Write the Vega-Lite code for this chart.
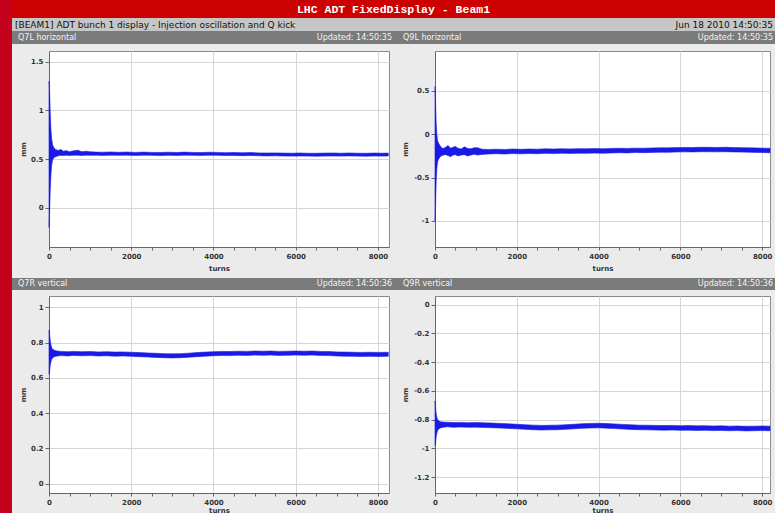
{
  "$schema": "https://vega.github.io/schema/vega-lite/v6.json",
  "background": "#ebebeb",
  "padding": 0,
  "spacing": 0,
  "config": {
    "view": {"stroke": null},
    "axis": {
      "labelFont": "DejaVu Sans", "labelFontWeight": "bold", "labelFontSize": 7, "labelColor": "#333333",
      "titleFont": "DejaVu Sans", "titleFontWeight": "bold", "titleFontSize": 7, "titleColor": "#333333",
      "domainColor": "#666666", "tickColor": "#666666", "gridColor": "#d6d6d6", "gridWidth": 1
    }
  },
  "datasets": {
    "q7l": [
      {"x":0,"lo":-0.2,"hi":1.3},{"x":8,"lo":-0.12,"hi":1.27},{"x":18,"lo":0.0,"hi":1.15},{"x":30,"lo":0.18,"hi":0.98},{"x":45,"lo":0.32,"hi":0.82},{"x":62,"lo":0.43,"hi":0.72},{"x":85,"lo":0.49,"hi":0.65},{"x":115,"lo":0.515,"hi":0.62},{"x":160,"lo":0.525,"hi":0.6},{"x":220,"lo":0.535,"hi":0.59},{"x":290,"lo":0.54,"hi":0.6},{"x":350,"lo":0.538,"hi":0.582},{"x":420,"lo":0.542,"hi":0.588},{"x":500,"lo":0.538,"hi":0.578},{"x":600,"lo":0.542,"hi":0.586},{"x":700,"lo":0.542,"hi":0.592},{"x":800,"lo":0.538,"hi":0.578},{"x":900,"lo":0.542,"hi":0.582},{"x":1000,"lo":0.54,"hi":0.576},{"x":1150,"lo":0.542,"hi":0.573},{"x":1300,"lo":0.539,"hi":0.572},{"x":1500,"lo":0.542,"hi":0.575},{"x":1700,"lo":0.54,"hi":0.571},{"x":1900,"lo":0.542,"hi":0.574},{"x":2100,"lo":0.539,"hi":0.57},{"x":2300,"lo":0.542,"hi":0.573},{"x":2500,"lo":0.54,"hi":0.57},{"x":2700,"lo":0.538,"hi":0.569},{"x":2900,"lo":0.54,"hi":0.572},{"x":3100,"lo":0.539,"hi":0.569},{"x":3300,"lo":0.542,"hi":0.573},{"x":3500,"lo":0.54,"hi":0.57},{"x":3700,"lo":0.539,"hi":0.568},{"x":3900,"lo":0.542,"hi":0.572},{"x":4100,"lo":0.54,"hi":0.57},{"x":4300,"lo":0.538,"hi":0.567},{"x":4500,"lo":0.539,"hi":0.569},{"x":4700,"lo":0.537,"hi":0.566},{"x":4900,"lo":0.538,"hi":0.568},{"x":5100,"lo":0.536,"hi":0.565},{"x":5300,"lo":0.534,"hi":0.564},{"x":5500,"lo":0.535,"hi":0.565},{"x":5700,"lo":0.533,"hi":0.563},{"x":5900,"lo":0.532,"hi":0.562},{"x":6100,"lo":0.533,"hi":0.564},{"x":6300,"lo":0.532,"hi":0.561},{"x":6500,"lo":0.531,"hi":0.561},{"x":6700,"lo":0.532,"hi":0.563},{"x":6900,"lo":0.533,"hi":0.564},{"x":7100,"lo":0.532,"hi":0.562},{"x":7300,"lo":0.534,"hi":0.564},{"x":7500,"lo":0.532,"hi":0.562},{"x":7700,"lo":0.531,"hi":0.561},{"x":7900,"lo":0.533,"hi":0.563},{"x":8100,"lo":0.532,"hi":0.562},{"x":8250,"lo":0.533,"hi":0.563}
    ],
    "q9l": [
      {"x":0,"lo":-1.0,"hi":0.55},{"x":8,"lo":-0.93,"hi":0.5},{"x":18,"lo":-0.74,"hi":0.3},{"x":30,"lo":-0.54,"hi":0.12},{"x":45,"lo":-0.4,"hi":0.0},{"x":62,"lo":-0.32,"hi":-0.07},{"x":85,"lo":-0.29,"hi":-0.1},{"x":110,"lo":-0.27,"hi":-0.12},{"x":150,"lo":-0.25,"hi":-0.15},{"x":200,"lo":-0.24,"hi":-0.165},{"x":260,"lo":-0.235,"hi":-0.15},{"x":320,"lo":-0.245,"hi":-0.13},{"x":380,"lo":-0.26,"hi":-0.16},{"x":440,"lo":-0.24,"hi":-0.15},{"x":500,"lo":-0.235,"hi":-0.14},{"x":560,"lo":-0.25,"hi":-0.16},{"x":640,"lo":-0.24,"hi":-0.17},{"x":720,"lo":-0.235,"hi":-0.145},{"x":800,"lo":-0.25,"hi":-0.165},{"x":880,"lo":-0.24,"hi":-0.168},{"x":960,"lo":-0.23,"hi":-0.155},{"x":1040,"lo":-0.24,"hi":-0.155},{"x":1150,"lo":-0.232,"hi":-0.172},{"x":1300,"lo":-0.228,"hi":-0.176},{"x":1500,"lo":-0.224,"hi":-0.172},{"x":1700,"lo":-0.228,"hi":-0.176},{"x":1900,"lo":-0.223,"hi":-0.17},{"x":2100,"lo":-0.226,"hi":-0.174},{"x":2300,"lo":-0.222,"hi":-0.17},{"x":2500,"lo":-0.224,"hi":-0.172},{"x":2700,"lo":-0.22,"hi":-0.168},{"x":2900,"lo":-0.223,"hi":-0.17},{"x":3100,"lo":-0.219,"hi":-0.167},{"x":3300,"lo":-0.221,"hi":-0.169},{"x":3500,"lo":-0.218,"hi":-0.166},{"x":3700,"lo":-0.22,"hi":-0.168},{"x":3900,"lo":-0.217,"hi":-0.165},{"x":4100,"lo":-0.219,"hi":-0.167},{"x":4300,"lo":-0.216,"hi":-0.164},{"x":4500,"lo":-0.213,"hi":-0.162},{"x":4700,"lo":-0.215,"hi":-0.163},{"x":4900,"lo":-0.211,"hi":-0.16},{"x":5100,"lo":-0.212,"hi":-0.161},{"x":5300,"lo":-0.209,"hi":-0.158},{"x":5500,"lo":-0.207,"hi":-0.156},{"x":5700,"lo":-0.208,"hi":-0.157},{"x":5900,"lo":-0.205,"hi":-0.154},{"x":6100,"lo":-0.203,"hi":-0.152},{"x":6300,"lo":-0.204,"hi":-0.153},{"x":6500,"lo":-0.201,"hi":-0.15},{"x":6700,"lo":-0.202,"hi":-0.151},{"x":6900,"lo":-0.203,"hi":-0.152},{"x":7100,"lo":-0.201,"hi":-0.15},{"x":7300,"lo":-0.204,"hi":-0.153},{"x":7500,"lo":-0.206,"hi":-0.155},{"x":7700,"lo":-0.208,"hi":-0.157},{"x":7900,"lo":-0.21,"hi":-0.159},{"x":8100,"lo":-0.212,"hi":-0.161},{"x":8192,"lo":-0.213,"hi":-0.162}
    ],
    "q7r": [
      {"x":0,"lo":0.62,"hi":0.87},{"x":8,"lo":0.625,"hi":0.86},{"x":18,"lo":0.645,"hi":0.84},{"x":30,"lo":0.67,"hi":0.81},{"x":45,"lo":0.69,"hi":0.79},{"x":65,"lo":0.705,"hi":0.77},{"x":90,"lo":0.714,"hi":0.762},{"x":130,"lo":0.72,"hi":0.756},{"x":200,"lo":0.724,"hi":0.752},{"x":300,"lo":0.726,"hi":0.75},{"x":450,"lo":0.724,"hi":0.748},{"x":600,"lo":0.727,"hi":0.75},{"x":800,"lo":0.725,"hi":0.748},{"x":1000,"lo":0.726,"hi":0.749},{"x":1200,"lo":0.724,"hi":0.747},{"x":1400,"lo":0.725,"hi":0.748},{"x":1600,"lo":0.723,"hi":0.746},{"x":1800,"lo":0.724,"hi":0.747},{"x":2000,"lo":0.722,"hi":0.745},{"x":2200,"lo":0.72,"hi":0.743},{"x":2400,"lo":0.718,"hi":0.741},{"x":2600,"lo":0.716,"hi":0.739},{"x":2800,"lo":0.714,"hi":0.737},{"x":3000,"lo":0.713,"hi":0.736},{"x":3200,"lo":0.714,"hi":0.737},{"x":3400,"lo":0.717,"hi":0.74},{"x":3600,"lo":0.72,"hi":0.743},{"x":3800,"lo":0.723,"hi":0.746},{"x":4000,"lo":0.725,"hi":0.748},{"x":4200,"lo":0.727,"hi":0.75},{"x":4400,"lo":0.726,"hi":0.749},{"x":4600,"lo":0.728,"hi":0.751},{"x":4800,"lo":0.727,"hi":0.75},{"x":5000,"lo":0.729,"hi":0.752},{"x":5200,"lo":0.728,"hi":0.751},{"x":5400,"lo":0.729,"hi":0.752},{"x":5600,"lo":0.727,"hi":0.75},{"x":5800,"lo":0.728,"hi":0.751},{"x":6000,"lo":0.729,"hi":0.752},{"x":6200,"lo":0.728,"hi":0.751},{"x":6400,"lo":0.729,"hi":0.752},{"x":6600,"lo":0.727,"hi":0.75},{"x":6800,"lo":0.726,"hi":0.749},{"x":7000,"lo":0.724,"hi":0.747},{"x":7200,"lo":0.723,"hi":0.746},{"x":7400,"lo":0.722,"hi":0.745},{"x":7600,"lo":0.721,"hi":0.744},{"x":7800,"lo":0.722,"hi":0.745},{"x":8000,"lo":0.721,"hi":0.744},{"x":8250,"lo":0.722,"hi":0.745}
    ],
    "q9r": [
      {"x":0,"lo":-0.98,"hi":-0.67},{"x":8,"lo":-0.975,"hi":-0.69},{"x":18,"lo":-0.95,"hi":-0.73},{"x":30,"lo":-0.92,"hi":-0.76},{"x":45,"lo":-0.895,"hi":-0.785},{"x":65,"lo":-0.875,"hi":-0.8},{"x":90,"lo":-0.865,"hi":-0.808},{"x":130,"lo":-0.858,"hi":-0.814},{"x":200,"lo":-0.853,"hi":-0.817},{"x":300,"lo":-0.85,"hi":-0.818},{"x":450,"lo":-0.853,"hi":-0.82},{"x":600,"lo":-0.851,"hi":-0.819},{"x":800,"lo":-0.853,"hi":-0.821},{"x":1000,"lo":-0.852,"hi":-0.82},{"x":1200,"lo":-0.854,"hi":-0.822},{"x":1400,"lo":-0.856,"hi":-0.824},{"x":1600,"lo":-0.858,"hi":-0.826},{"x":1800,"lo":-0.861,"hi":-0.829},{"x":2000,"lo":-0.864,"hi":-0.832},{"x":2200,"lo":-0.867,"hi":-0.835},{"x":2400,"lo":-0.87,"hi":-0.838},{"x":2600,"lo":-0.872,"hi":-0.84},{"x":2800,"lo":-0.871,"hi":-0.839},{"x":3000,"lo":-0.87,"hi":-0.838},{"x":3200,"lo":-0.867,"hi":-0.835},{"x":3400,"lo":-0.864,"hi":-0.832},{"x":3600,"lo":-0.86,"hi":-0.828},{"x":3800,"lo":-0.858,"hi":-0.826},{"x":4000,"lo":-0.857,"hi":-0.825},{"x":4200,"lo":-0.859,"hi":-0.827},{"x":4400,"lo":-0.862,"hi":-0.83},{"x":4600,"lo":-0.865,"hi":-0.833},{"x":4800,"lo":-0.868,"hi":-0.836},{"x":5000,"lo":-0.87,"hi":-0.838},{"x":5200,"lo":-0.871,"hi":-0.839},{"x":5400,"lo":-0.872,"hi":-0.84},{"x":5600,"lo":-0.873,"hi":-0.841},{"x":5800,"lo":-0.872,"hi":-0.84},{"x":6000,"lo":-0.874,"hi":-0.842},{"x":6200,"lo":-0.873,"hi":-0.841},{"x":6400,"lo":-0.875,"hi":-0.843},{"x":6600,"lo":-0.874,"hi":-0.842},{"x":6800,"lo":-0.876,"hi":-0.844},{"x":7000,"lo":-0.875,"hi":-0.843},{"x":7200,"lo":-0.877,"hi":-0.845},{"x":7400,"lo":-0.876,"hi":-0.844},{"x":7600,"lo":-0.878,"hi":-0.846},{"x":7800,"lo":-0.877,"hi":-0.845},{"x":8000,"lo":-0.876,"hi":-0.844},{"x":8192,"lo":-0.877,"hi":-0.845}
    ]
  },
  "hconcat": [
    {
      "width": 12, "height": 513,
      "view": {"fill": "#c4001c", "stroke": null},
      "data": {"values": [{"t": ""}]},
      "mark": {"type": "text"},
      "encoding": {"text": {"field": "t"}}
    },
    {
      "spacing": 0,
      "vconcat": [
        {
          "width": 763, "height": 18,
          "view": {"fill": "#cc0000", "stroke": null},
          "data": {"values": [{"t": "LHC ADT FixedDisplay - Beam1"}]},
          "mark": {"type": "text", "font": "Liberation Mono", "fontWeight": "bold", "fontSize": 11.5, "color": "#ffffff", "baseline": "middle", "align": "center", "dy": 1},
          "encoding": {
            "text": {"field": "t"},
            "x": {"datum": 0.5, "type": "quantitative", "scale": {"domain": [0, 1]}, "axis": null}
          }
        },
        {
          "width": 763, "height": 13,
          "view": {"fill": "#c6c6c6", "stroke": null},
          "encoding": {"x": {"field": "p", "type": "quantitative", "scale": {"domain": [0, 1]}, "axis": null}, "text": {"field": "t"}},
          "layer": [
            {"data": {"values": [{"t": "[BEAM1] ADT bunch 1 display - Injection oscillation and Q kick", "p": 0}]},
             "mark": {"type": "text", "font": "DejaVu Sans", "fontSize": 9, "color": "#111111", "align": "left", "baseline": "middle", "dx": 3}},
            {"data": {"values": [{"t": "Jun 18 2010 14:50:35", "p": 1}]},
             "mark": {"type": "text", "font": "DejaVu Sans", "fontSize": 9, "color": "#111111", "align": "right", "baseline": "middle", "dx": -2}}
          ]
        },
        {
          "spacing": 6,
          "vconcat": [
            {
              "spacing": 0,
              "hconcat": [
                {
                  "width": 383, "height": 13,
                  "view": {"fill": "#7b7b7b", "stroke": null},
                  "encoding": {"x": {"field": "p", "type": "quantitative", "scale": {"domain": [0, 1]}, "axis": null}, "text": {"field": "t"}},
                  "layer": [
                    {"data": {"values": [{"t": "Q7L horizontal", "p": 0}]},
                     "mark": {"type": "text", "font": "DejaVu Sans", "fontSize": 8, "color": "#f4f4f4", "align": "left", "baseline": "middle", "dx": 6}},
                    {"data": {"values": [{"t": "Updated: 14:50:35", "p": 1}]},
                     "mark": {"type": "text", "font": "DejaVu Sans", "fontSize": 8, "color": "#f4f4f4", "align": "right", "baseline": "middle", "dx": -3}}
                  ]
                },
                {
                  "width": 380, "height": 13,
                  "view": {"fill": "#7b7b7b", "stroke": null},
                  "encoding": {"x": {"field": "p", "type": "quantitative", "scale": {"domain": [0, 1]}, "axis": null}, "text": {"field": "t"}},
                  "layer": [
                    {"data": {"values": [{"t": "Q9L horizontal", "p": 0}]},
                     "mark": {"type": "text", "font": "DejaVu Sans", "fontSize": 8, "color": "#f4f4f4", "align": "left", "baseline": "middle", "dx": 8}},
                    {"data": {"values": [{"t": "Updated: 14:50:35", "p": 1}]},
                     "mark": {"type": "text", "font": "DejaVu Sans", "fontSize": 8, "color": "#f4f4f4", "align": "right", "baseline": "middle", "dx": -2}}
                  ]
                }
              ]
            },
            {
              "spacing": 0,
              "hconcat": [
                {
                  "width": 6, "height": 196,
                  "data": {"values": [{"t": ""}]},
                  "mark": {"type": "text"},
                  "encoding": {"text": {"field": "t"}}
                },
                {
                  "spacing": 11,
                  "hconcat": [
                    {
                      "width": 340, "height": 196,
                      "view": {"fill": "#ffffff", "stroke": "#8a8a8a"},
                      "data": {"name": "q7l"},
                      "mark": {"type": "area", "color": "#1a1ae6", "stroke": "#1a1ae6", "strokeWidth": 0.6},
                      "encoding": {
                        "x": {"field": "x", "type": "quantitative", "scale": {"domain": [0, 8268], "nice": false, "zero": false},
                              "axis": {"title": "turns", "values": [0,500,1000,1500,2000,2500,3000,3500,4000,4500,5000,5500,6000,6500,7000,7500,8000],
                                       "labelExpr": "datum.value % 2000 === 0 ? '' + datum.value : ''", "labelOverlap": false, "labelFlush": false,
                                       "gridOpacity": {"condition": {"test": "datum.value % 2000 === 0", "value": 1}, "value": 0},
                                       "tickSize": 3, "labelPadding": 2, "titlePadding": 5}},
                        "y": {"field": "lo", "type": "quantitative", "scale": {"domain": [-0.4, 1.61], "nice": false, "zero": false},
                              "axis": {"title": "mm", "values": [0, 0.5, 1, 1.5], "labelExpr": "'' + datum.value", "tickSize": 4, "labelPadding": 2, "minExtent": 18, "titlePadding": 4.5}},
                        "y2": {"field": "hi"}
                      }
                    },
                    {
                      "width": 335, "height": 196,
                      "view": {"fill": "#ffffff", "stroke": "#8a8a8a"},
                      "data": {"name": "q9l"},
                      "mark": {"type": "area", "color": "#1a1ae6", "stroke": "#1a1ae6", "strokeWidth": 0.6},
                      "encoding": {
                        "x": {"field": "x", "type": "quantitative", "scale": {"domain": [0, 8192], "nice": false, "zero": false},
                              "axis": {"title": "turns", "values": [0,500,1000,1500,2000,2500,3000,3500,4000,4500,5000,5500,6000,6500,7000,7500,8000],
                                       "labelExpr": "datum.value % 2000 === 0 ? '' + datum.value : ''", "labelOverlap": false, "labelFlush": false,
                                       "gridOpacity": {"condition": {"test": "datum.value % 2000 === 0", "value": 1}, "value": 0},
                                       "tickSize": 3, "labelPadding": 2, "titlePadding": 5}},
                        "y": {"field": "lo", "type": "quantitative", "scale": {"domain": [-1.3, 0.96], "nice": false, "zero": false},
                              "axis": {"title": "mm", "values": [-1, -0.5, 0, 0.5], "labelExpr": "'' + datum.value", "tickSize": 4, "labelPadding": 2, "minExtent": 22, "titlePadding": 4.5}},
                        "y2": {"field": "hi"}
                      }
                    }
                  ]
                }
              ]
            },
            {
              "spacing": 5,
              "vconcat": [
                {
                  "spacing": 0,
                  "hconcat": [
                    {
                      "width": 383, "height": 12,
                      "view": {"fill": "#7b7b7b", "stroke": null},
                      "encoding": {"x": {"field": "p", "type": "quantitative", "scale": {"domain": [0, 1]}, "axis": null}, "text": {"field": "t"}},
                      "layer": [
                        {"data": {"values": [{"t": "Q7R vertical", "p": 0}]},
                         "mark": {"type": "text", "font": "DejaVu Sans", "fontSize": 8, "color": "#f4f4f4", "align": "left", "baseline": "middle", "dx": 6}},
                        {"data": {"values": [{"t": "Updated: 14:50:36", "p": 1}]},
                         "mark": {"type": "text", "font": "DejaVu Sans", "fontSize": 8, "color": "#f4f4f4", "align": "right", "baseline": "middle", "dx": -3}}
                      ]
                    },
                    {
                      "width": 380, "height": 12,
                      "view": {"fill": "#7b7b7b", "stroke": null},
                      "encoding": {"x": {"field": "p", "type": "quantitative", "scale": {"domain": [0, 1]}, "axis": null}, "text": {"field": "t"}},
                      "layer": [
                        {"data": {"values": [{"t": "Q9R vertical", "p": 0}]},
                         "mark": {"type": "text", "font": "DejaVu Sans", "fontSize": 8, "color": "#f4f4f4", "align": "left", "baseline": "middle", "dx": 8}},
                        {"data": {"values": [{"t": "Updated: 14:50:36", "p": 1}]},
                         "mark": {"type": "text", "font": "DejaVu Sans", "fontSize": 8, "color": "#f4f4f4", "align": "right", "baseline": "middle", "dx": -2}}
                      ]
                    }
                  ]
                },
                {
                  "spacing": 0,
                  "vconcat": [
                    {
                      "spacing": 0,
                      "hconcat": [
                        {
                          "width": 6, "height": 197,
                          "data": {"values": [{"t": ""}]},
                          "mark": {"type": "text"},
                          "encoding": {"text": {"field": "t"}}
                        },
                        {
                          "spacing": 11,
                          "hconcat": [
                            {
                              "width": 340, "height": 197,
                              "view": {"fill": "#ffffff", "stroke": "#8a8a8a"},
                              "data": {"name": "q7r"},
                              "mark": {"type": "area", "color": "#1a1ae6", "stroke": "#1a1ae6", "strokeWidth": 0.6},
                              "encoding": {
                                "x": {"field": "x", "type": "quantitative", "scale": {"domain": [0, 8268], "nice": false, "zero": false},
                                      "axis": {"title": "turns", "values": [0,500,1000,1500,2000,2500,3000,3500,4000,4500,5000,5500,6000,6500,7000,7500,8000],
                                               "labelExpr": "datum.value % 2000 === 0 ? '' + datum.value : ''", "labelOverlap": false, "labelFlush": false,
                                               "gridOpacity": {"condition": {"test": "datum.value % 2000 === 0", "value": 1}, "value": 0},
                                               "tickSize": 3, "labelPadding": 2, "titlePadding": 1}},
                                "y": {"field": "lo", "type": "quantitative", "scale": {"domain": [-0.053, 1.064], "nice": false, "zero": false},
                                      "axis": {"title": "mm", "values": [0, 0.2, 0.4, 0.6, 0.8, 1], "labelExpr": "'' + datum.value", "tickSize": 4, "labelPadding": 2, "minExtent": 18, "titlePadding": 4.5}},
                                "y2": {"field": "hi"}
                              }
                            },
                            {
                              "width": 335, "height": 197,
                              "view": {"fill": "#ffffff", "stroke": "#8a8a8a"},
                              "data": {"name": "q9r"},
                              "mark": {"type": "area", "color": "#1a1ae6", "stroke": "#1a1ae6", "strokeWidth": 0.6},
                              "encoding": {
                                "x": {"field": "x", "type": "quantitative", "scale": {"domain": [0, 8192], "nice": false, "zero": false},
                                      "axis": {"title": "turns", "values": [0,500,1000,1500,2000,2500,3000,3500,4000,4500,5000,5500,6000,6500,7000,7500,8000],
                                               "labelExpr": "datum.value % 2000 === 0 ? '' + datum.value : ''", "labelOverlap": false, "labelFlush": false,
                                               "gridOpacity": {"condition": {"test": "datum.value % 2000 === 0", "value": 1}, "value": 0},
                                               "tickSize": 3, "labelPadding": 2, "titlePadding": 1}},
                                "y": {"field": "lo", "type": "quantitative", "scale": {"domain": [-1.31, 0.06], "nice": false, "zero": false},
                                      "axis": {"title": "mm", "values": [-1.2, -1, -0.8, -0.6, -0.4, -0.2, 0], "labelExpr": "'' + datum.value", "tickSize": 4, "labelPadding": 2, "minExtent": 22, "titlePadding": 4.5}},
                                "y2": {"field": "hi"}
                              }
                            }
                          ]
                        }
                      ]
                    },
                    {
                      "width": 763, "height": 3,
                      "view": {"fill": "#c4001c", "stroke": null},
                      "data": {"values": [{"t": ""}]},
                      "mark": {"type": "text"},
                      "encoding": {"text": {"field": "t"}}
                    }
                  ]
                }
              ]
            }
          ]
        }
      ]
    }
  ]
}
